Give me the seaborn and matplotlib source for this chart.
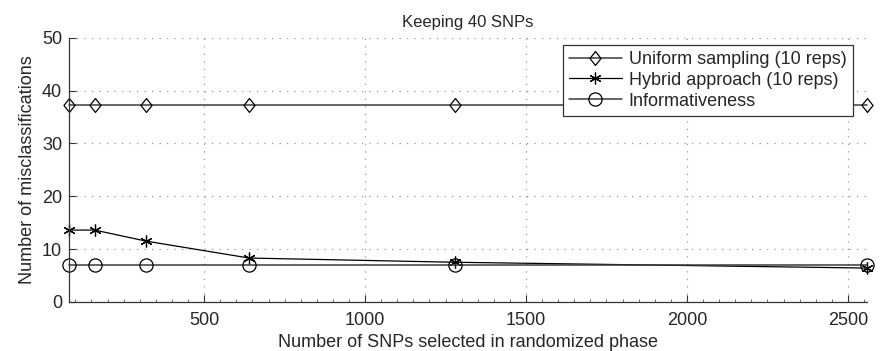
import matplotlib
matplotlib.use("Agg")
import matplotlib.pyplot as plt
import seaborn as sns
import pandas as pd
from matplotlib.ticker import MultipleLocator
from matplotlib.path import Path

snps = [80, 160, 320, 640, 1280, 2560]
uniform = [37.2, 37.2, 37.2, 37.2, 37.2, 37.2]
hybrid = [13.6, 13.6, 11.5, 8.3, 7.5, 6.4]
informativeness = [7.0, 7.0, 7.0, 7.0, 7.0, 7.0]
labels = ["Uniform sampling (10 reps)", "Hybrid approach (10 reps)", "Informativeness"]

sns.set_style("white")
plt.rcParams['font.family'] = ['Liberation Sans', 'DejaVu Sans']

diamond = Path([(0, 1), (0.8, 0), (0, -1), (-0.8, 0), (0, 1)],
               [Path.MOVETO, Path.LINETO, Path.LINETO, Path.LINETO, Path.CLOSEPOLY])

fig = plt.figure(figsize=(8.84, 3.51), dpi=100)
ax = fig.add_axes([0.078, 0.14, 0.903, 0.752])

series = [
    (uniform, labels[0], diamond, "#3a3a3a", 1.1, 10),
    (hybrid, labels[1], (6, 2, 0), "black", 0.9, 8.5),
    (informativeness, labels[2], "o", "#3a3a3a", 1.1, 9.5),
]
for vals, lab, mk, col, lw, ms in series:
    df = pd.DataFrame({"x": snps, "y": vals})
    sns.lineplot(data=df, x="x", y="y", ax=ax, color=col, linewidth=lw,
                 marker=mk, markersize=ms, markerfacecolor="none",
                 markeredgecolor="black", markeredgewidth=0.9,
                 label=lab, clip_on=False)

ax.set_xlim(80, 2560)
ax.set_ylim(0, 50)
ax.xaxis.set_major_locator(MultipleLocator(500))
ax.xaxis.set_minor_locator(MultipleLocator(50))
ax.yaxis.set_major_locator(MultipleLocator(10))
ax.grid(True, which="major", linestyle=(0, (1, 5)), color="#999999", linewidth=0.9)
for s in ["top", "right"]:
    ax.spines[s].set_visible(False)
for s in ["left", "bottom"]:
    ax.spines[s].set_color("#333333")
    ax.spines[s].set_linewidth(0.9)
ax.tick_params(axis="x", which="major", direction="in", length=5, labelsize=13,
               color="#333333", bottom=True, pad=7)
ax.tick_params(axis="y", which="major", direction="in", length=5, labelsize=13,
               color="#333333", left=True, pad=5)
ax.tick_params(axis="x", which="minor", direction="in", length=2.5, color="#555555", bottom=True)

ax.set_xlabel("Number of SNPs selected in randomized phase", fontsize=13, labelpad=4)
ax.set_ylabel("Number of misclassifications", fontsize=13, labelpad=4)
ax.set_title("Keeping 40 SNPs", fontsize=12, pad=8)

leg = ax.legend(loc="upper right", fontsize=13, frameon=True, fancybox=False,
                handlelength=2.9, borderpad=0.35, labelspacing=0.22, handletextpad=0.4,
                borderaxespad=0, bbox_to_anchor=(0.982, 0.975))
leg.get_frame().set_edgecolor("#333333")
leg.get_frame().set_linewidth(0.9)
leg.get_frame().set_alpha(1)

fig.savefig("out.png", dpi=100)
